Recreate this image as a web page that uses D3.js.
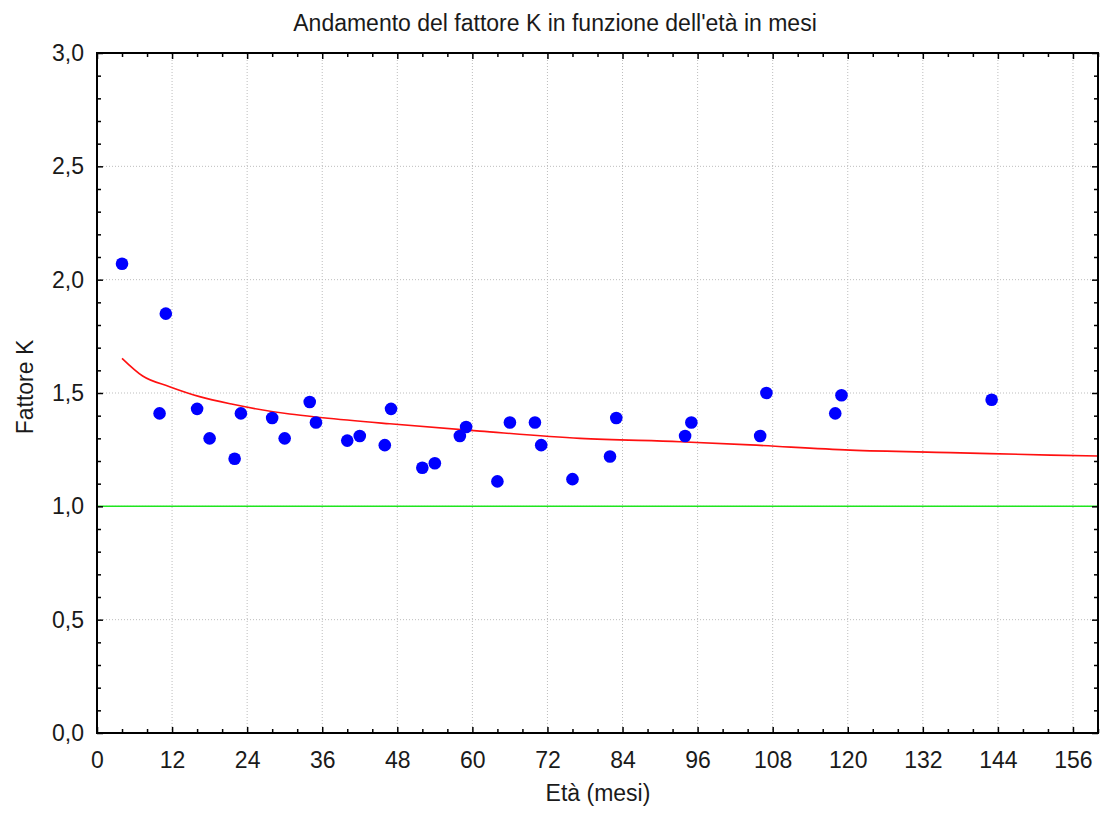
<!DOCTYPE html>
<html>
<head>
<meta charset="utf-8">
<script src="https://cdn.jsdelivr.net/npm/d3@7"></script>
<style>
  body { margin: 0; background: #fff; }
  svg { display: block; font-family: "Liberation Sans", Arial, sans-serif; }
  .tick text { fill: #1a1a1a; }
</style>
</head>
<body>
<svg></svg>
<script>
 // età in mesi e fattore K dei punti osservati
 let months = [4, 10, 11, 16, 18, 22, 23, 28, 30, 34, 35, 40, 42, 46, 47, 52, 54, 58, 59, 64, 66, 70, 71, 76, 82, 83, 94, 95, 106, 107, 118, 119, 143];
 let kValues = [2.07, 1.41, 1.85, 1.43, 1.30, 1.21, 1.41, 1.39, 1.30, 1.46, 1.37, 1.29, 1.31, 1.27, 1.43, 1.17, 1.19, 1.31, 1.35, 1.11, 1.37, 1.37, 1.27, 1.12, 1.22, 1.39, 1.31, 1.37, 1.31, 1.50, 1.41, 1.49, 1.47];

 // curva rossa
 let curveMonths = [4, 7.3, 11.6, 16.4, 21.7, 30.8, 36.1, 46.8, 61.2, 77.2, 93.2, 104.4, 120.4, 136.4, 152.4, 160];
 let curveValues = [1.653, 1.575, 1.528, 1.484, 1.450, 1.407, 1.391, 1.364, 1.332, 1.300, 1.285, 1.271, 1.248, 1.237, 1.226, 1.222];

 let refLine = [1.0];

 let xTicks = [0, 12, 24, 36, 48, 60, 72, 84, 96, 108, 120, 132, 144, 156];
 let yTicks = [0, 0.5, 1.0, 1.5, 2.0, 2.5, 3.0];

 let width = 1102;
 let height = 814;
 let margin = {left: 97, right: 4, top: 53, bottom: 81};

 let svg = d3.select('svg').attr('width', width).attr('height', height);

 let xScale = d3.scaleLinear().domain([0, 160]).range([margin.left, width - margin.right]);
 let yScale = d3.scaleLinear().domain([0, 3]).range([height - margin.bottom, margin.top]);

 let fmt = d => d3.format('.1f')(d).replace('.', ',');

 let minorX = d3.range(0, 161, 4).filter(d => d % 12 !== 0);
 let minorY = d3.range(0, 3.01, 0.1).map(d => +d.toFixed(1)).filter(d => Math.round(d * 10) % 5 !== 0);

 // griglia
 svg.append('g')
    .selectAll('line')
    .data(xTicks.filter(d => d > 0))
    .enter()
    .append('line')
    .attr('x1', d => xScale(d)).attr('x2', d => xScale(d))
    .attr('y1', yScale(0)).attr('y2', yScale(3))
    .attr('stroke', '#bdbdbd').attr('stroke-dasharray', '1,2');

 svg.append('g')
    .selectAll('line')
    .data(yTicks.filter(d => d > 0 && d < 3))
    .enter()
    .append('line')
    .attr('x1', xScale(0)).attr('x2', xScale(160))
    .attr('y1', d => yScale(d)).attr('y2', d => yScale(d))
    .attr('stroke', '#bdbdbd').attr('stroke-dasharray', '1,2');

 // linea di riferimento K = 1
 svg.selectAll('.ref')
    .data(refLine)
    .enter()
    .append('line')
    .attr('class', 'ref')
    .attr('x1', xScale(0)).attr('x2', xScale(160))
    .attr('y1', d => yScale(d)).attr('y2', d => yScale(d))
    .attr('stroke', '#1ee61e').attr('stroke-width', 1.5);

 // curva
 let curve = curveMonths.map((m, i) => [m, curveValues[i]]);
 svg.append('path')
    .datum(curve)
    .attr('fill', 'none')
    .attr('stroke', '#ff1010')
    .attr('stroke-width', 1.6)
    .attr('d', d3.line().x(d => xScale(d[0])).y(d => yScale(d[1])).curve(d3.curveMonotoneX));

 // punti
 svg.selectAll('circle')
    .data(months)
    .enter()
    .append('circle')
    .attr('cx', d => xScale(d))
    .attr('cy', (d, i) => yScale(kValues[i]))
    .attr('r', 6.3)
    .attr('fill', '#0000ff');

 // assi
 let drawAxis = (axis, transform, labels) => {
  let g = svg.append('g').attr('transform', transform).call(axis);
  g.select('.domain').remove();
  g.selectAll('.tick line').attr('stroke', '#000').attr('stroke-width', 1.5);
  if (!labels) g.selectAll('.tick text').remove();
  else g.selectAll('.tick text').attr('font-size', 23).attr('font-family', '"Liberation Sans", Arial, sans-serif');
  return g;
 };

 let bottom = height - margin.bottom;
 let right = width - margin.right;

 drawAxis(d3.axisBottom(xScale).tickValues(xTicks).tickSize(-6).tickPadding(19), `translate(0, ${bottom})`, true);
 drawAxis(d3.axisBottom(xScale).tickValues(minorX).tickSize(-4), `translate(0, ${bottom})`, false);
 drawAxis(d3.axisTop(xScale).tickValues(xTicks).tickSize(-6), `translate(0, ${margin.top})`, false);
 drawAxis(d3.axisTop(xScale).tickValues(minorX).tickSize(-4), `translate(0, ${margin.top})`, false);

 drawAxis(d3.axisLeft(yScale).tickValues(yTicks).tickSize(-6).tickPadding(13).tickFormat(fmt), `translate(${margin.left}, 0)`, true);
 drawAxis(d3.axisLeft(yScale).tickValues(minorY).tickSize(-4), `translate(${margin.left}, 0)`, false);
 drawAxis(d3.axisRight(yScale).tickValues(yTicks).tickSize(-6), `translate(${right}, 0)`, false);
 drawAxis(d3.axisRight(yScale).tickValues(minorY).tickSize(-4), `translate(${right}, 0)`, false);

 // cornice
 svg.append('rect')
    .attr('x', margin.left).attr('y', margin.top)
    .attr('width', right - margin.left).attr('height', bottom - margin.top)
    .attr('fill', 'none').attr('stroke', '#000').attr('stroke-width', 2);

 // titoli
 svg.append('text')
    .attr('x', 555).attr('y', 31)
    .attr('text-anchor', 'middle')
    .attr('font-size', 23)
    .attr('fill', '#1a1a1a')
    .text("Andamento del fattore K in funzione dell'età in mesi");

 svg.append('text')
    .attr('x', 598).attr('y', 801)
    .attr('text-anchor', 'middle')
    .attr('font-size', 23)
    .attr('fill', '#1a1a1a')
    .text('Età (mesi)');

 svg.append('text')
    .attr('transform', `translate(33, 387) rotate(-90)`)
    .attr('text-anchor', 'middle')
    .attr('font-size', 23)
    .attr('fill', '#1a1a1a')
    .text('Fattore K');
</script>
</body>
</html>
